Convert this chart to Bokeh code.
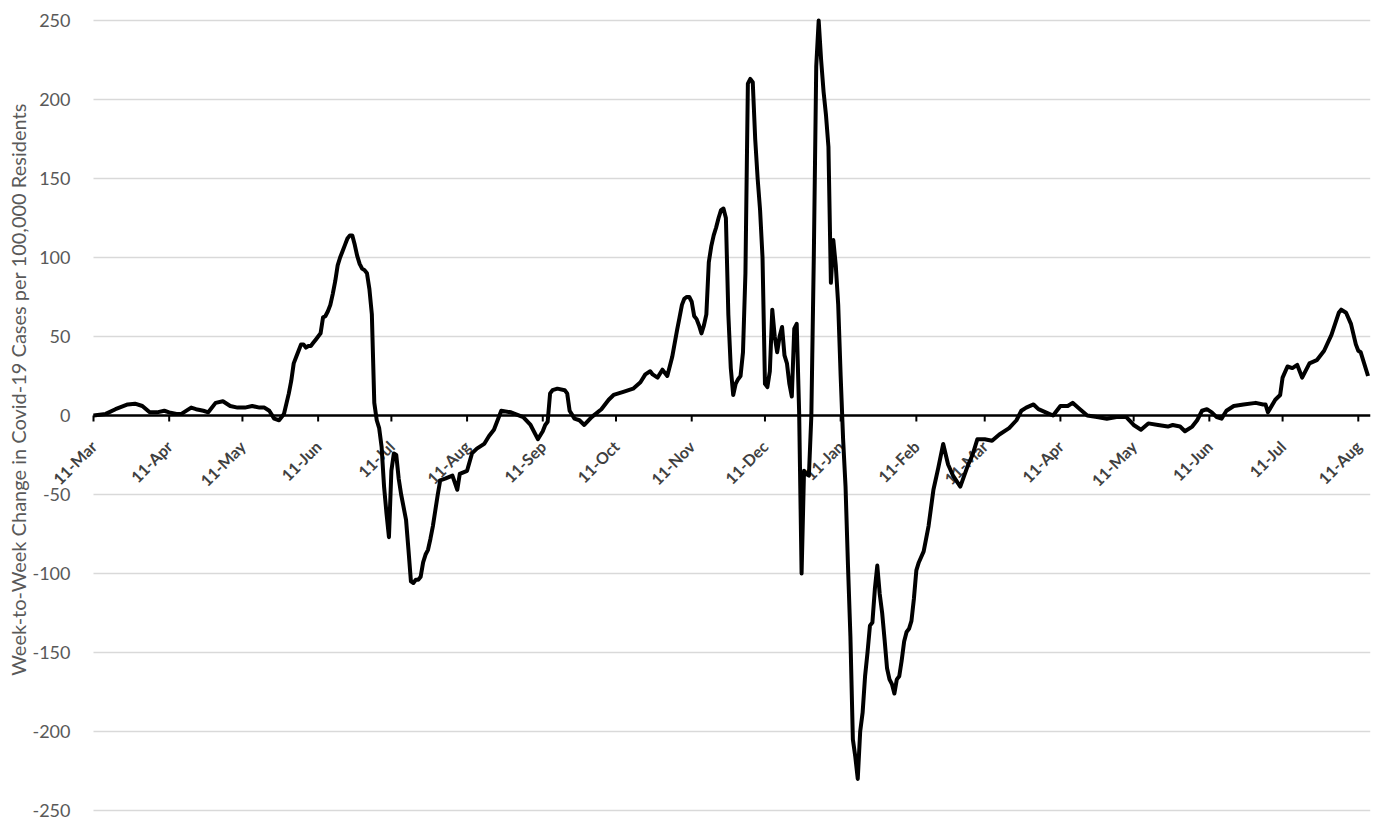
import math
import pandas as pd
from bokeh.plotting import figure
from bokeh.models import Range1d, ColumnDataSource, Label
from bokeh.embed import file_html
from bokeh.resources import INLINE

# ---------------- data ----------------
dates = [
    "2020-03-11", "2020-03-16", "2020-03-20", "2020-03-25", "2020-03-28", "2020-03-31",
    "2020-04-03", "2020-04-06", "2020-04-09", "2020-04-11", "2020-04-14", "2020-04-16",
    "2020-04-20", "2020-04-22", "2020-04-25", "2020-04-27", "2020-04-30", "2020-05-03",
    "2020-05-06", "2020-05-09", "2020-05-12", "2020-05-15", "2020-05-18", "2020-05-20",
    "2020-05-22", "2020-05-24", "2020-05-26", "2020-05-28", "2020-05-30", "2020-05-31",
    "2020-06-01", "2020-06-02", "2020-06-03", "2020-06-04", "2020-06-05", "2020-06-06",
    "2020-06-07", "2020-06-08", "2020-06-09", "2020-06-10", "2020-06-11", "2020-06-12",
    "2020-06-13", "2020-06-14", "2020-06-15", "2020-06-16", "2020-06-17", "2020-06-18",
    "2020-06-19", "2020-06-20", "2020-06-21", "2020-06-22", "2020-06-23", "2020-06-24",
    "2020-06-25", "2020-06-26", "2020-06-27", "2020-06-28", "2020-06-29", "2020-06-30",
    "2020-07-01", "2020-07-02", "2020-07-03", "2020-07-04", "2020-07-05", "2020-07-06",
    "2020-07-07", "2020-07-08", "2020-07-09", "2020-07-10", "2020-07-11", "2020-07-12",
    "2020-07-13", "2020-07-14", "2020-07-15", "2020-07-16", "2020-07-17", "2020-07-18",
    "2020-07-19", "2020-07-20", "2020-07-21", "2020-07-22", "2020-07-23", "2020-07-24",
    "2020-07-25", "2020-07-26", "2020-07-27", "2020-07-28", "2020-07-29", "2020-07-30",
    "2020-07-31", "2020-08-02", "2020-08-05", "2020-08-07", "2020-08-08", "2020-08-11",
    "2020-08-13", "2020-08-15", "2020-08-18", "2020-08-20", "2020-08-22", "2020-08-25",
    "2020-08-29", "2020-09-03", "2020-09-06", "2020-09-09", "2020-09-11", "2020-09-12",
    "2020-09-13", "2020-09-14", "2020-09-15", "2020-09-17", "2020-09-20", "2020-09-21",
    "2020-09-22", "2020-09-24", "2020-09-26", "2020-09-28", "2020-10-01", "2020-10-05",
    "2020-10-08", "2020-10-10", "2020-10-14", "2020-10-18", "2020-10-21", "2020-10-23",
    "2020-10-25", "2020-10-26", "2020-10-28", "2020-10-30", "2020-11-01", "2020-11-03",
    "2020-11-05", "2020-11-06", "2020-11-07", "2020-11-08", "2020-11-09", "2020-11-10",
    "2020-11-11", "2020-11-12", "2020-11-13", "2020-11-14", "2020-11-15", "2020-11-16",
    "2020-11-17", "2020-11-18", "2020-11-19", "2020-11-20", "2020-11-21", "2020-11-22",
    "2020-11-23", "2020-11-24", "2020-11-25", "2020-11-26", "2020-11-27", "2020-11-28",
    "2020-11-29", "2020-11-30", "2020-12-01", "2020-12-02", "2020-12-03", "2020-12-04",
    "2020-12-05", "2020-12-06", "2020-12-07", "2020-12-08", "2020-12-09", "2020-12-10",
    "2020-12-11", "2020-12-12", "2020-12-13", "2020-12-14", "2020-12-15", "2020-12-16",
    "2020-12-17", "2020-12-18", "2020-12-19", "2020-12-20", "2020-12-21", "2020-12-22",
    "2020-12-23", "2020-12-24", "2020-12-25", "2020-12-26", "2020-12-27", "2020-12-28",
    "2020-12-29", "2020-12-30", "2020-12-31", "2021-01-01", "2021-01-02", "2021-01-03",
    "2021-01-04", "2021-01-05", "2021-01-06", "2021-01-07", "2021-01-08", "2021-01-09",
    "2021-01-10", "2021-01-11", "2021-01-12", "2021-01-13", "2021-01-14", "2021-01-15",
    "2021-01-16", "2021-01-17", "2021-01-18", "2021-01-19", "2021-01-20", "2021-01-21",
    "2021-01-22", "2021-01-23", "2021-01-24", "2021-01-25", "2021-01-26", "2021-01-27",
    "2021-01-28", "2021-01-29", "2021-01-30", "2021-01-31", "2021-02-01", "2021-02-02",
    "2021-02-03", "2021-02-04", "2021-02-05", "2021-02-06", "2021-02-07", "2021-02-08",
    "2021-02-09", "2021-02-10", "2021-02-11", "2021-02-12", "2021-02-14", "2021-02-16",
    "2021-02-18", "2021-02-20", "2021-02-22", "2021-02-24", "2021-02-26", "2021-03-01",
    "2021-03-04", "2021-03-06", "2021-03-08", "2021-03-11", "2021-03-14", "2021-03-17",
    "2021-03-21", "2021-03-24", "2021-03-26", "2021-03-28", "2021-03-31", "2021-04-02",
    "2021-04-05", "2021-04-08", "2021-04-11", "2021-04-14", "2021-04-16", "2021-04-19",
    "2021-04-22", "2021-04-26", "2021-04-30", "2021-05-04", "2021-05-08", "2021-05-11",
    "2021-05-14", "2021-05-17", "2021-05-21", "2021-05-25", "2021-05-27", "2021-05-30",
    "2021-06-01", "2021-06-04", "2021-06-06", "2021-06-08", "2021-06-10", "2021-06-12",
    "2021-06-14", "2021-06-16", "2021-06-18", "2021-06-21", "2021-06-25", "2021-06-30",
    "2021-07-03", "2021-07-04", "2021-07-05", "2021-07-08", "2021-07-10", "2021-07-11",
    "2021-07-13", "2021-07-15", "2021-07-17", "2021-07-19", "2021-07-22", "2021-07-25",
    "2021-07-28", "2021-07-31", "2021-08-03", "2021-08-04", "2021-08-06", "2021-08-08",
    "2021-08-10", "2021-08-11", "2021-08-12", "2021-08-15",
]

weekly_change = [
    0, 1, 4, 7, 7.5, 6,
    2, 2, 3, 2, 1, 1,
    5, 4, 3, 2, 8, 9,
    6, 5, 5, 6, 5, 5,
    3, -2, -3, 1, 14, 22,
    33, 37, 41, 45, 45, 43,
    44, 44, 46, 48, 50, 52,
    62, 63, 66, 70, 77, 85,
    95, 100, 104, 108, 112, 114,
    114, 108, 101, 96, 93, 92,
    90, 80, 64, 8, -3, -8,
    -20, -45, -62, -77, -35, -24,
    -25, -40, -50, -58, -66, -85,
    -105, -106, -104, -104, -102, -93,
    -88, -85, -78, -70, -60, -50,
    -41, -40, -38, -47, -37, -35,
    -24, -21, -18, -13, -9, 3,
    2, -1, -6, -15, -10, -6,
    -4, 14, 16, 17, 16, 14,
    3, -2, -3, -6, -1, 4,
    10, 13, 15, 17, 21, 26,
    28, 26, 24, 29, 25, 37,
    54, 62, 70, 74, 75, 75,
    72, 63, 61, 57, 52, 57,
    64, 97, 107, 114, 119, 125,
    130, 131, 125, 64, 30, 13,
    20, 23, 25, 40, 90, 210,
    213, 211, 175, 150, 130, 100,
    20, 18, 28, 67, 50, 40,
    50, 56, 38, 33, 20, 12,
    55, 58, 2, -100, -35, -37,
    -38, 0, 100, 221, 250, 225,
    205, 190, 170, 84, 111, 95,
    70, 25, -15, -45, -95, -140,
    -205, -216, -230, -200, -188, -165,
    -150, -133, -131, -110, -95, -113,
    -125, -142, -160, -167, -170, -176,
    -167, -165, -155, -143, -137, -135,
    -130, -116, -98, -93, -86, -70,
    -47, -33, -18, -31, -38, -45,
    -32, -25, -15, -15, -16, -12,
    -8, -3, 3, 5, 7, 4,
    2, 0, 6, 6, 8, 4,
    0, -1, -2, -1, -1, -6,
    -9, -5, -6, -7, -6, -7,
    -10, -7, -3, 3, 4, 2,
    -1, -2, 3, 6, 7, 8,
    7, 7, 2, 10, 13, 24,
    31, 30, 32, 24, 33, 35,
    41, 51, 65, 67, 65, 58,
    45, 41, 40, 25,
]

tick_dates = [
    "2020-03-11", "2020-04-11", "2020-05-11", "2020-06-11", "2020-07-11", "2020-08-11",
    "2020-09-11", "2020-10-11", "2020-11-11", "2020-12-11", "2021-01-11", "2021-02-11",
    "2021-03-11", "2021-04-11", "2021-05-11", "2021-06-11", "2021-07-11", "2021-08-11",
]
tick_labels = [
    "11-Mar", "11-Apr", "11-May", "11-Jun", "11-Jul", "11-Aug",
    "11-Sep", "11-Oct", "11-Nov", "11-Dec", "11-Jan", "11-Feb",
    "11-Mar", "11-Apr", "11-May", "11-Jun", "11-Jul", "11-Aug",
]
y_ticks = [-250, -200, -150, -100, -50, 0, 50, 100, 150, 200, 250]
y_tick_labels = ["-250", "-200", "-150", "-100", "-50", "0", "50", "100", "150", "200", "250"]
y_title = "Week-to-Week Change in Covid-19 Cases per 100,000 Residents"
x_start, x_end = "2020-03-11", "2021-08-16"

# ---------------- layout constants (pixels) ----------------
FONT = "Lato"
W, H = 1374, 820
PLOT_LEFT = 93            # data area starts here; axis texts sit to its left
PLOT_TOP, PLOT_BOTTOM = 20, 810
RIGHT = 4
FRAME_W = W - RIGHT
TICK_PX = 6

t0, t1 = pd.Timestamp(x_start), pd.Timestamp(x_end)
y_lo, y_hi = y_ticks[0], y_ticks[-1]
# the frame covers the whole canvas so that the axis texts around the data area
# are not clipped; the ranges are widened so the data area lands where it should
range_start = t0 - (t1 - t0) * PLOT_LEFT / (FRAME_W - PLOT_LEFT)
units_per_px = (y_hi - y_lo) / (PLOT_BOTTOM - PLOT_TOP)
range_hi = y_hi + PLOT_TOP * units_per_px
range_lo = y_lo - (H - PLOT_BOTTOM) * units_per_px
tick_len = TICK_PX * units_per_px

p = figure(width=W, height=H, output_backend="svg", toolbar_location=None,
           x_axis_type="datetime", x_axis_location=None, y_axis_location=None,
           x_range=Range1d(range_start, t1), y_range=Range1d(range_lo, range_hi),
           min_border_left=0, min_border_right=RIGHT, min_border_top=0,
           min_border_bottom=0)
p.outline_line_color = None
p.background_fill_color = "white"
p.border_fill_color = "white"
p.xgrid.visible = False
p.ygrid.visible = False

# horizontal gridlines over the data area
grid_src = ColumnDataSource(dict(x0=[t0] * len(y_ticks), x1=[t1] * len(y_ticks),
                                 y=y_ticks))
p.segment(x0="x0", x1="x1", y0="y", y1="y", source=grid_src,
          line_color="#d9d9d9", line_width=1.5, level="image")

# y tick labels
for yv, lab in zip(y_ticks, y_tick_labels):
    p.add_layout(Label(x=t0, y=yv, x_offset=-23, text=lab, text_align="right",
                       text_baseline="middle", text_font=FONT, text_font_size="18px",
                       text_color="#595959", level="underlay"))

# y axis title
p.add_layout(Label(x=t0, y=0, x_offset=-75, y_offset=26, text=y_title,
                   angle=math.pi / 2, text_align="center", text_baseline="middle",
                   text_font=FONT, text_font_size="20px", text_color="#595959",
                   level="underlay"))

# category axis drawn at y = 0
p.segment(x0=[t0], x1=[t1], y0=[0], y1=[0], line_color="black", line_width=2.5)
tick_x = pd.to_datetime(tick_dates)
tick_src = ColumnDataSource(dict(x=tick_x, y0=[0] * len(tick_x),
                                 y1=[-tick_len] * len(tick_x)))
p.segment(x0="x", x1="x", y0="y0", y1="y1", source=tick_src, line_color="black",
          line_width=2)

for d, t in zip(tick_x, tick_labels):
    p.add_layout(Label(x=d, y=0, text=t, angle=math.pi / 4,
                       text_align="right", text_baseline="middle",
                       x_offset=0, y_offset=-28,
                       text_font=FONT, text_font_style="bold", text_font_size="16px",
                       text_color="#404040", level="underlay"))

# data line (clipped at the top of the data area, like the reference)
src = ColumnDataSource(dict(date=pd.to_datetime(dates), value=weekly_change))
p.line(x="date", y="value", source=src, line_color="black", line_width=4,
       line_join="round")

open("out.html", "w").write(file_html(p, INLINE))
